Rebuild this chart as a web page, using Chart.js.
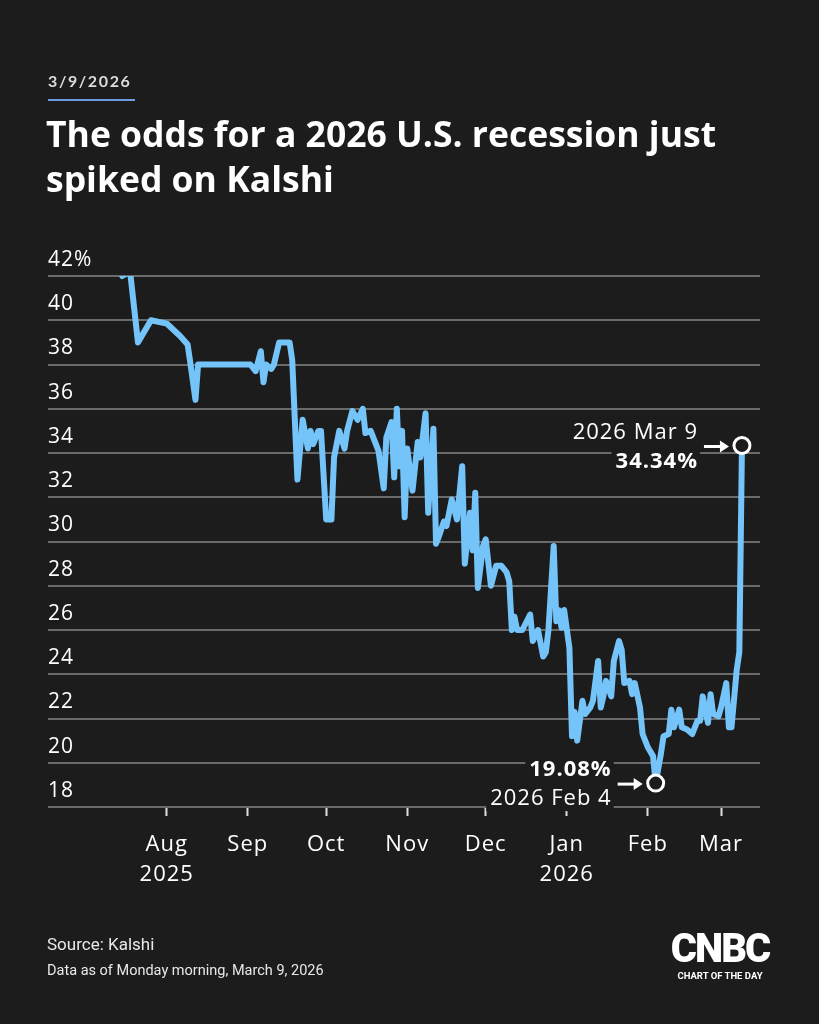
<!DOCTYPE html>
<html>
<head>
<meta charset="utf-8">
<script src="https://cdn.jsdelivr.net/npm/chart.js@4.4.1/dist/chart.umd.min.js"></script>
<style>
  html, body { margin: 0; padding: 0; background: #1c1c1c; }
  #page { position: relative; width: 819px; height: 1024px; overflow: hidden; background: #1c1c1c; font-family: "Open Sans", Lato, sans-serif; color: #fff; }
  #chartBox { position: absolute; left: 0; top: 0; width: 819px; height: 1024px; }
  .txt { position: absolute; white-space: nowrap; }
  #date { left: 48px; top: 72px; font-size: 16px; font-weight: 700; letter-spacing: 1.6px; color: #dcdcdc; line-height: 18px; font-family: Lato, sans-serif; }
  #rule { position: absolute; left: 48px; top: 99px; width: 87px; height: 2px; background: #6b9be0; }
  #title { left: 46px; top: 111px; font-size: 35.5px; font-weight: 700; line-height: 45px; letter-spacing: 0px; }
  #source { left: 47px; top: 934px; font-size: 17px; font-family: Roboto, sans-serif; color: #e8e8e8; }
  #asof { left: 47px; top: 962px; font-size: 14.5px; font-family: Roboto, sans-serif; color: #e8e8e8; }
  #logo { left: 668px; top: 928px; width: 104px; text-align: center; }
  #logo .big { font-size: 40px; font-weight: 900; letter-spacing: -2px; line-height: 42px; font-family: Roboto, sans-serif; }
  #logo .small { font-size: 9.5px; font-weight: 700; line-height: 12px; font-family: Roboto, sans-serif; }
</style>
</head>
<body>
<div id="page">
  <div id="chartBox"><canvas id="oddsChart"></canvas></div>
  <div class="txt" id="date">3/9/2026</div>
  <div id="rule"></div>
  <div class="txt" id="title">The odds for a 2026 U.S. recession just<br>spiked on Kalshi</div>
  <div class="txt" id="source">Source: Kalshi</div>
  <div class="txt" id="asof">Data as of Monday morning, March 9, 2026</div>
  <div class="txt" id="logo"><div class="big">CNBC</div><div class="small">CHART OF THE DAY</div></div>
</div>
<script>
// days counted from 2025-08-01 (day 0)
const days = [
  -17, -14, -11, -6, 0, 5, 8, 9, 11, 12,
  32, 34, 36, 37, 38, 40, 41, 43, 47, 48,
  50, 52, 54, 55, 56, 58, 59, 61, 63, 64,
  66, 68, 69, 71, 73, 75, 76, 78, 80, 81,
  83, 84, 86, 87, 88, 89, 90, 91, 92, 94,
  96, 97, 99, 100, 102, 103, 104, 106, 107, 109,
  111, 113, 114, 116, 117, 118, 119, 121, 122, 124,
  126, 128, 130, 131, 132, 133, 134, 136, 139, 140,
  142, 144, 145, 146, 148, 149, 150, 151, 152, 154,
  155, 156, 157, 159, 160, 162, 163, 165, 166, 167,
  168, 170, 171, 173, 174, 175, 177, 178, 179, 181,
  182, 184, 186, 187, 189, 190, 192, 193, 194, 196,
  197, 199, 201, 203, 204, 205, 207, 208, 209, 211,
  212, 214, 215, 216, 218, 219, 220
];
// recession odds, %
const odds = [
  42.0, 42.2, 39.0, 40.0, 39.85, 39.3, 38.9, 38.1, 36.4, 38.0,
  38.0, 37.7, 38.6, 37.2, 38.0, 37.8, 38.0, 39.0, 39.0, 38.2,
  32.8, 35.5, 34.2, 35.0, 34.4, 35.0, 35.0, 31.0, 31.0, 33.8,
  35.0, 34.2, 35.0, 35.9, 35.5, 36.0, 34.9, 35.0, 34.4, 34.1,
  32.4, 34.7, 35.4, 32.9, 36.0, 33.4, 35.0, 31.1, 34.2, 32.3,
  34.5, 33.8, 35.8, 31.3, 35.1, 29.9, 30.2, 30.9, 30.7, 31.9,
  31.0, 33.4, 29.0, 31.3, 29.6, 32.2, 27.9, 29.8, 30.1, 28.0,
  28.9, 28.9, 28.6, 28.2, 26.0, 26.6, 26.0, 26.0, 26.7, 25.5,
  26.0, 24.8, 25.0, 26.0, 29.8, 26.4, 26.9, 26.1, 26.9, 25.2,
  21.2, 22.3, 21.0, 22.8, 22.2, 22.5, 22.8, 24.6, 22.5, 23.0,
  23.7, 23.0, 24.6, 25.5, 25.1, 23.6, 23.7, 23.1, 23.6, 22.5,
  21.3, 20.7, 20.3, 19.08, 20.4, 21.2, 21.3, 22.4, 21.6, 22.4,
  21.6, 21.5, 21.3, 21.9, 21.9, 23.0, 21.8, 23.1, 22.2, 22.1,
  22.5, 23.6, 21.6, 21.6, 24.2, 25.0, 34.34
];

const tickDays = [0, 31, 61, 92, 122, 153, 184, 212];
const tickMonths = ["Aug", "Sep", "Oct", "Nov", "Dec", "Jan", "Feb", "Mar"];
const tickYears = ["2025", "", "", "", "", "2026", "", ""];

// callouts: day, first line, second line, which line is bold
const calloutDays = [187, 220];
const calloutTop = ["19.08%", "2026 Mar 9"];
const calloutBottom = ["2026 Feb 4", "34.34%"];
const calloutBoldTop = [true, false];

const BG = "#1c1c1c";
const LINE = "#74c4fa";
const FONT = "'Open Sans', Lato, sans-serif";

const points = days.map((d, i) => ({ x: d, y: odds[i] }));
const markIdx = calloutDays.map(d => days.indexOf(d));

// wider letter spacing for the axis text
const spacingPlugin = {
    id: "spacing",
    beforeDraw(chart) { chart.ctx.letterSpacing = "1px"; },
    afterDraw(chart) { chart.ctx.letterSpacing = "0px"; }
};

const calloutPlugin = {
    id: "callouts",
    afterDatasetsDraw(chart) {
        const ctx = chart.ctx;
        const meta = chart.getDatasetMeta(0);
        ctx.save();
        ctx.letterSpacing = "1px";
        markIdx.forEach((idx, k) => {
            const el = meta.data[idx];
            const px = el.x, py = el.y;
            const right = px - 45;
            const lines = [
                { text: calloutTop[k], bold: calloutBoldTop[k], dy: -13 },
                { text: calloutBottom[k], bold: !calloutBoldTop[k], dy: 16 }
            ];
            ctx.textAlign = "right";
            ctx.textBaseline = "middle";
            lines.forEach(l => {
                ctx.font = (l.bold ? "700 " : "400 ") + "22px " + FONT;
                const w = ctx.measureText(l.text).width;
                ctx.fillStyle = BG;
                ctx.fillRect(right - w - 3, py + l.dy - 12, w + 6, 24);
                ctx.fillStyle = "#ffffff";
                ctx.fillText(l.text, right + 1, py + l.dy);
            });
            // arrow
            const x1 = px - 38, x2 = px - 13, ay = py + 1;
            ctx.strokeStyle = "#ffffff";
            ctx.fillStyle = "#ffffff";
            ctx.lineWidth = 3;
            ctx.beginPath();
            ctx.moveTo(x1, ay);
            ctx.lineTo(x2 - 6, ay);
            ctx.stroke();
            ctx.beginPath();
            ctx.moveTo(x2, ay);
            ctx.lineTo(x2 - 9, ay - 6);
            ctx.lineTo(x2 - 9, ay + 6);
            ctx.closePath();
            ctx.fill();
        });
        ctx.restore();
    }
};

const ctx = document.getElementById("oddsChart").getContext("2d");
new Chart(ctx, {
    type: "line",
    data: {
        datasets: [{
            data: points,
            borderColor: LINE,
            borderWidth: 6,
            borderJoinStyle: "round",
            borderCapStyle: "round",
            tension: 0,
            fill: false,
            pointRadius: days.map((d, i) => markIdx.includes(i) ? 8 : 0),
            pointBorderWidth: 3,
            pointBorderColor: "#ffffff",
            pointBackgroundColor: BG
        }]
    },
    options: {
        responsive: true,
        maintainAspectRatio: false,
        animation: false,
        layout: { padding: { left: 48, right: 59, top: 276, bottom: 117 } },
        plugins: {
            legend: { display: false },
            tooltip: { enabled: false }
        },
        scales: {
            x: {
                type: "linear",
                min: -45.4,
                max: 226.9,
                afterBuildTicks: scale => {
                    scale.ticks = tickDays.map(v => ({ value: v }));
                },
                afterFit: scale => { scale.height = 100; },
                border: { display: false },
                grid: {
                    drawOnChartArea: false,
                    drawTicks: true,
                    tickLength: 9,
                    tickWidth: 2,
                    tickColor: "#e0e0e0"
                },
                ticks: {
                    color: "#ffffff",
                    font: { family: FONT, size: 22, lineHeight: 1.4 },
                    padding: 13,
                    maxRotation: 0,
                    autoSkip: false,
                    callback: (value) => {
                        const i = tickDays.indexOf(value);
                        if (i < 0) return "";
                        return tickYears[i] ? [tickMonths[i], tickYears[i]] : tickMonths[i];
                    }
                }
            },
            y: {
                min: 18,
                max: 42,
                border: { display: false },
                grid: {
                    color: "#6a6a6a",
                    lineWidth: 2,
                    drawTicks: false
                },
                ticks: {
                    stepSize: 2,
                    mirror: true,
                    padding: 0,
                    labelOffset: -16,
                    color: "#ffffff",
                    font: { family: FONT, size: 21 },
                    callback: v => v === 42 ? "42%" : String(v)
                }
            }
        }
    },
    plugins: [spacingPlugin, calloutPlugin]
});
</script>
</body>
</html>
